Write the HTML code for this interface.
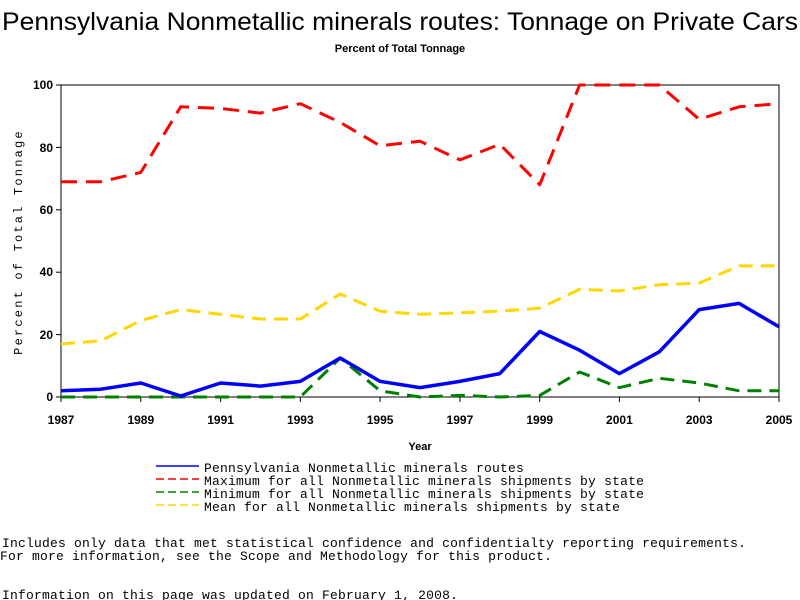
<!DOCTYPE html>
<html><head><meta charset="utf-8"><style>
html,body{margin:0;padding:0;background:#fff;}
svg{display:block;}
.m{font-family:"Liberation Mono",monospace;font-size:13px;letter-spacing:0.2px;fill:#000;}
.t{font-family:"Liberation Sans",sans-serif;font-weight:bold;font-size:12px;fill:#000;}
</style></head><body>
<svg width="800" height="600" xmlns="http://www.w3.org/2000/svg">
<text x="400" y="30" text-anchor="middle" font-family="Liberation Sans,sans-serif" font-size="25" textLength="796" lengthAdjust="spacingAndGlyphs">Pennsylvania Nonmetallic minerals routes: Tonnage on Private Cars</text>
<text x="400" y="52" text-anchor="middle" font-family="Liberation Sans,sans-serif" font-size="11" font-weight="bold">Percent of Total Tonnage</text>
<rect x="61" y="85" width="718" height="312" fill="none" stroke="#000" stroke-width="1"/>
<g stroke="#000">
<line x1="56" y1="397" x2="61" y2="397"/><line x1="56" y1="334.6" x2="61" y2="334.6"/><line x1="56" y1="272.2" x2="61" y2="272.2"/><line x1="56" y1="209.8" x2="61" y2="209.8"/><line x1="56" y1="147.4" x2="61" y2="147.4"/><line x1="56" y1="85" x2="61" y2="85"/>
<line x1="61" y1="397" x2="61" y2="402"/><line x1="140.8" y1="397" x2="140.8" y2="402"/><line x1="220.6" y1="397" x2="220.6" y2="402"/><line x1="300.3" y1="397" x2="300.3" y2="402"/><line x1="380.1" y1="397" x2="380.1" y2="402"/><line x1="459.9" y1="397" x2="459.9" y2="402"/><line x1="539.7" y1="397" x2="539.7" y2="402"/><line x1="619.4" y1="397" x2="619.4" y2="402"/><line x1="699.2" y1="397" x2="699.2" y2="402"/><line x1="779" y1="397" x2="779" y2="402"/>
</g>
<g class="t" text-anchor="end">
<text x="53" y="401">0</text><text x="53" y="339">20</text><text x="53" y="276">40</text><text x="53" y="214">60</text><text x="53" y="152">80</text><text x="53" y="89">100</text>
</g>
<g class="t" text-anchor="middle">
<text x="61" y="424">1987</text><text x="140.8" y="424">1989</text><text x="220.6" y="424">1991</text><text x="300.3" y="424">1993</text><text x="380.1" y="424">1995</text><text x="459.9" y="424">1997</text><text x="539.7" y="424">1999</text><text x="619.4" y="424">2001</text><text x="699.2" y="424">2003</text><text x="779" y="424">2005</text>
<text x="420" y="450" font-size="11">Year</text>
</g>
<text transform="translate(22,242) rotate(-90)" text-anchor="middle" font-family="Liberation Mono,monospace" font-size="12" letter-spacing="2.2">Percent of Total Tonnage</text>
<g fill="none" stroke-linejoin="round">
<polyline stroke="#FFD700" stroke-width="3" stroke-dasharray="14,8" points="61,344 100.9,340.8 140.8,320.5 180.7,309.6 220.6,314.3 260.4,319 300.3,319 340.2,294 380.1,311.2 420,314.3 459.9,312.8 499.8,311.2 539.7,308.1 579.6,289.4 619.4,290.9 659.3,284.7 699.2,283.1 739.1,265.9 779,265.9"/>
<polyline stroke="#FF0000" stroke-width="3" stroke-dasharray="16,9" points="61,181.7 100.9,181.7 140.8,172.4 180.7,106.8 220.6,108.4 260.4,113.1 300.3,103.7 340.2,122.4 380.1,145.8 420,141.2 459.9,159.9 499.8,144.3 539.7,184.8 579.6,85 619.4,85 659.3,85 699.2,119.3 739.1,106.8 779,103.7"/>
<polyline stroke="#008000" stroke-width="3" stroke-dasharray="14,8" points="61,397 100.9,397 140.8,397 180.7,397 220.6,397 260.4,397 300.3,397 340.2,358 380.1,390.8 420,397 459.9,395.4 499.8,397 539.7,395.4 579.6,372 619.4,387.6 659.3,378.3 699.2,383 739.1,390.8 779,390.8"/>
<polyline stroke="#0000FF" stroke-width="3.5" points="61,390.8 100.9,389.2 140.8,383 180.7,396 220.6,383 260.4,386.1 300.3,381.4 340.2,358 380.1,381.4 420,387.6 459.9,381.4 499.8,373.6 539.7,331.5 579.6,350.2 619.4,373.6 659.3,351.8 699.2,309.6 739.1,303.4 779,326.8"/>
</g>
<line x1="156" y1="466" x2="199" y2="466" stroke="#0000FF" stroke-width="1.5"/>
<line x1="156" y1="479" x2="199" y2="479" stroke="#FF0000" stroke-width="1.5" stroke-dasharray="8,4"/>
<line x1="156" y1="492" x2="199" y2="492" stroke="#008000" stroke-width="1.5" stroke-dasharray="8,4"/>
<line x1="156" y1="505" x2="199" y2="505" stroke="#FFD700" stroke-width="1.5" stroke-dasharray="8,4"/>
<text class="m" x="204" y="472">Pennsylvania Nonmetallic minerals routes</text>
<text class="m" x="204" y="485">Maximum for all Nonmetallic minerals shipments by state</text>
<text class="m" x="204" y="498">Minimum for all Nonmetallic minerals shipments by state</text>
<text class="m" x="204" y="511">Mean for all Nonmetallic minerals shipments by state</text>
<text class="m" x="2" y="547">Includes only data that met statistical confidence and confidentialty reporting requirements.</text>
<text class="m" x="0" y="560">For more information, see the Scope and Methodology for this product.</text>
<text class="m" x="2" y="599">Information on this page was updated on February 1, 2008.</text>
</svg>
</body></html>
